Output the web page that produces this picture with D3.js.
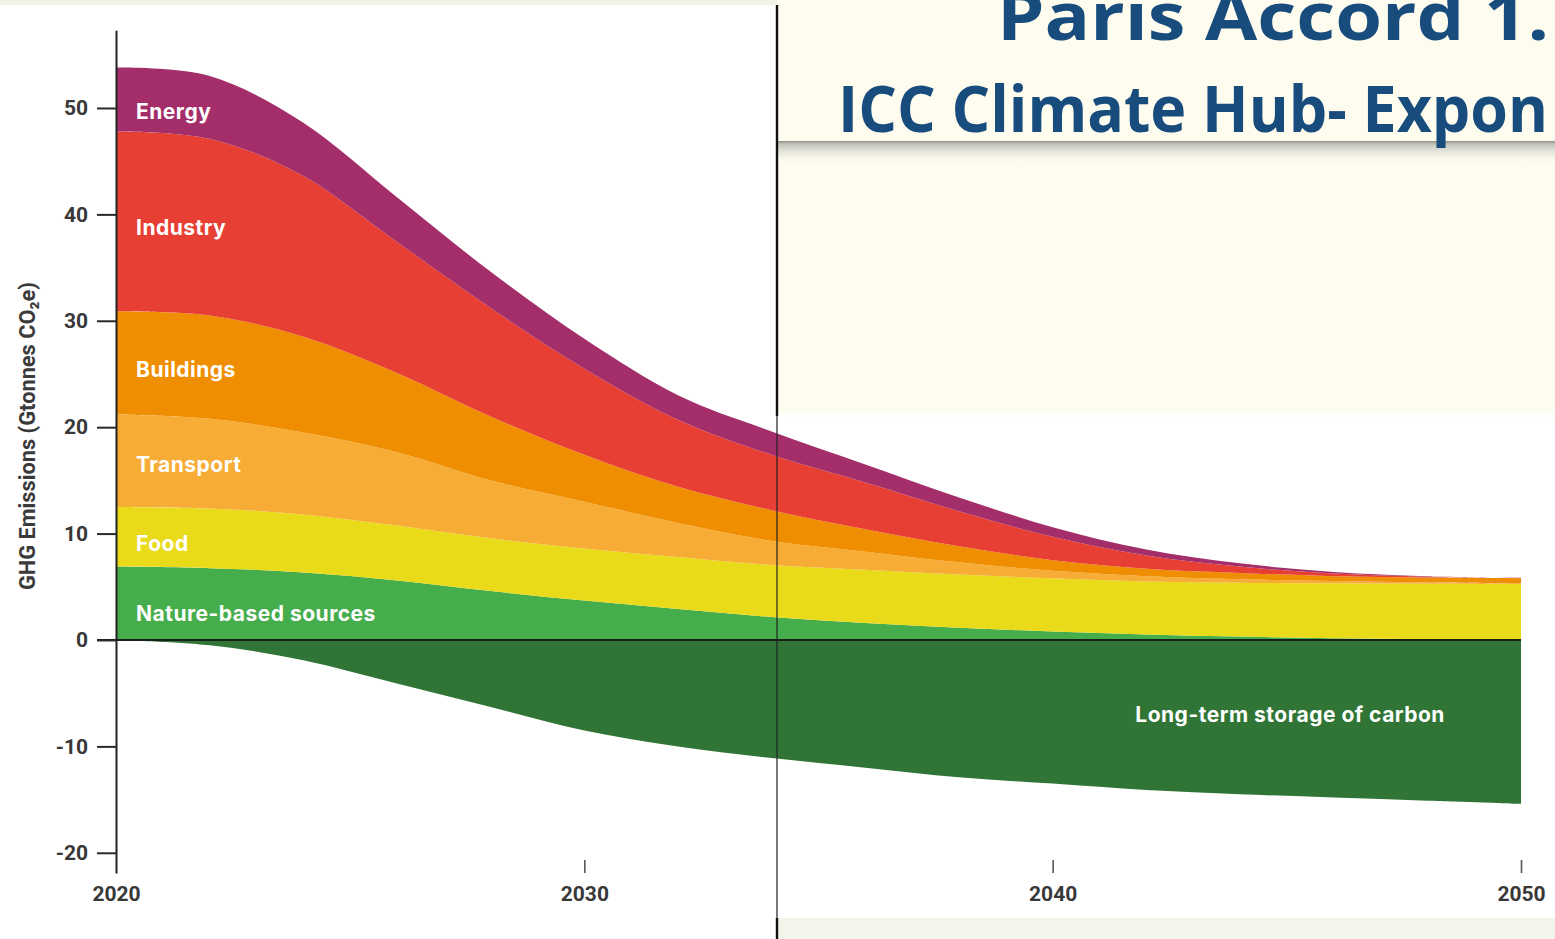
<!DOCTYPE html>
<html>
<head>
<meta charset="utf-8">
<script src="https://cdn.jsdelivr.net/npm/d3@7"></script>
<style>
  html, body { margin: 0; padding: 0; background: #fdfcef; }
  svg { display: block; }
</style>
</head>
<body>
<svg id="chart" width="1555" height="939"></svg>
<script>
// Emission pathway by sector, Gt CO2e per year
const years     = [2020, 2022, 2024, 2026, 2028, 2030, 2032, 2034, 2036, 2038, 2040, 2042, 2044, 2046, 2048, 2050];
const energy    = [6.0, 5.9, 5.0, 4.2, 3.4, 2.8, 2.3, 2.2, 1.7, 1.3, 0.9, 0.55, 0.3, 0.15, 0.05, 0.02];
const industry  = [16.9, 16.6, 15.1, 12.3, 10.2, 8.1, 6.3, 5.2, 4.4, 3.3, 2.2, 1.25, 0.6, 0.25, 0.08, 0.02];
const buildings = [9.7, 9.7, 9.0, 7.45, 6.0, 4.4, 3.4, 2.9, 2.1, 1.5, 1.0, 0.7, 0.6, 0.45, 0.47, 0.5];
const transport = [8.7, 8.45, 7.7, 6.9, 5.45, 4.4, 3.2, 2.25, 1.7, 1.15, 0.7, 0.5, 0.32, 0.22, 0.11, 0.04];
const food      = [5.6, 5.6, 5.45, 5.15, 4.95, 4.9, 4.9, 4.9, 5.0, 5.0, 5.0, 4.98, 5.06, 5.17, 5.23, 5.26];
const nature    = [6.9, 6.75, 6.35, 5.6, 4.6, 3.7, 2.9, 2.15, 1.6, 1.15, 0.8, 0.52, 0.32, 0.16, 0.06, 0.01];
const storage   = [0, -0.5, -1.9, -4.1, -6.3, -8.5, -10.0, -11.1, -12.0, -12.9, -13.5, -14.1, -14.5, -14.8, -15.1, -15.4];

const seriesNames = ["Nature-based sources", "Food", "Transport", "Buildings", "Industry", "Energy", "Long-term storage of carbon"];
const seriesValues = [nature, food, transport, buildings, industry, energy, storage];
const seriesColors = ["#46ad4c", "#eadb1a", "#f6ac35", "#f08e02", "#e73f34", "#a32e69", "#307536"];

const yTicks = [50, 40, 30, 20, 10, 0, -10, -20];
const xTicks = [2020, 2030, 2040, 2050];
const yTitle = "GHG Emissions (Gtonnes CO₂e)";
const titleLine1 = "Paris Accord 1.";
const titleLine2 = "ICC Climate Hub- Expon";

const svg = d3.select("#chart");
const W = 1555, H = 939;

// ---- slide backdrop and panels ----
const defs = svg.append("defs");
const shade = defs.append("linearGradient").attr("id", "ruleShade")
  .attr("x1", 0).attr("y1", 0).attr("x2", 0).attr("y2", 1);
shade.append("stop").attr("offset", 0).attr("stop-color", "#8f8f8a").attr("stop-opacity", 1);
shade.append("stop").attr("offset", 0.12).attr("stop-color", "#b9b9b2").attr("stop-opacity", 0.9);
shade.append("stop").attr("offset", 1).attr("stop-color", "#fdfcef").attr("stop-opacity", 0);

const fade = defs.append("linearGradient").attr("id", "panelFade")
  .attr("x1", 0).attr("y1", 0).attr("x2", 0).attr("y2", 1);
fade.append("stop").attr("offset", 0).attr("stop-color", "#fdfcef");
fade.append("stop").attr("offset", 1).attr("stop-color", "#ffffff");

svg.append("rect").attr("x", 0).attr("y", 0).attr("width", W).attr("height", H).attr("fill", "#fdfcef");
svg.append("rect").attr("x", 0).attr("y", 0).attr("width", 777).attr("height", 5).attr("fill", "#f3f2e6");
svg.append("rect").attr("x", 0).attr("y", 5).attr("width", 777).attr("height", H - 5).attr("fill", "#ffffff");
svg.append("rect").attr("x", 777).attr("y", 918).attr("width", W - 777).attr("height", H - 918).attr("fill", "#f5f4ea");
svg.append("rect").attr("x", 777).attr("y", 409).attr("width", W - 777).attr("height", 9).attr("fill", "url(#panelFade)");
svg.append("rect").attr("x", 777).attr("y", 418).attr("width", W - 777).attr("height", 500).attr("fill", "#ffffff");

// rule under the slide heading
svg.append("rect").attr("x", 777).attr("y", 141).attr("width", W - 777).attr("height", 24).attr("fill", "url(#ruleShade)");

// slide heading
svg.append("text")
  .attr("x", 997).attr("y", 40)
  .attr("font-family", "'Open Sans', 'Noto Sans', sans-serif")
  .attr("font-weight", 700).attr("font-size", 66)
  .attr("fill", "#184c7c")
  .attr("textLength", 552).attr("lengthAdjust", "spacingAndGlyphs")
  .text(titleLine1);
svg.append("text")
  .attr("x", 838).attr("y", 132)
  .attr("font-family", "'Open Sans', 'Noto Sans', sans-serif")
  .attr("font-weight", 700).attr("font-size", 64)
  .attr("fill", "#184c7c")
  .attr("textLength", 710).attr("lengthAdjust", "spacingAndGlyphs")
  .text(titleLine2);

// ---- scales ----
const x = d3.scaleLinear().domain([2020, 2050]).range([116, 1521]);
const y = d3.scaleLinear().domain([-21.9, 57.3]).range([873, 30.3]);

// ---- stacked areas ----
const rows = years.map((yr, i) => {
  const r = { year: yr };
  seriesNames.forEach((k, j) => { r[k] = seriesValues[j][i]; });
  return r;
});
const stacked = d3.stack().keys(seriesNames).offset(d3.stackOffsetDiverging)(rows);

// uniform Catmull-Rom keeps the bands smooth through every sample
const area = d3.area()
  .x(d => x(d.data.year))
  .y0(d => y(d[0]))
  .y1(d => y(d[1]))
  .curve(d3.curveCatmullRom.alpha(0));

svg.append("g").selectAll("path")
  .data(stacked)
  .join("path")
  .attr("d", area)
  .attr("fill", (d, i) => seriesColors[i]);

// zero line
svg.append("line")
  .attr("x1", 97).attr("x2", x(2050))
  .attr("y1", y(0)).attr("y2", y(0))
  .attr("stroke", "#17211a").attr("stroke-width", 2);

// ---- axes ----
const tickFont = "'Roboto', 'Liberation Sans', sans-serif";

const yAxis = svg.append("g")
  .attr("transform", `translate(${x(2020)},0)`)
  .call(d3.axisLeft(y).tickValues(yTicks).tickSize(19).tickSizeOuter(0).tickPadding(9).tickFormat(d3.format("d")));
yAxis.select(".domain").attr("stroke", "#222").attr("stroke-width", 2);
yAxis.selectAll(".tick line").attr("stroke", "#2a2a2a").attr("stroke-width", 2);
yAxis.selectAll(".tick text")
  .attr("font-family", tickFont).attr("font-weight", 700).attr("font-size", 21)
  .attr("fill", "#383838").text(d => d < 0 ? "-" + Math.abs(d) : d);

const xAxis = svg.append("g")
  .attr("transform", "translate(0,860)")
  .call(d3.axisBottom(x).tickValues(xTicks).tickSize(13).tickFormat(d3.format("d")));
xAxis.select(".domain").remove();
xAxis.selectAll(".tick line")
  .attr("stroke", "#555").attr("stroke-width", 1.6)
  .attr("display", d => d === 2020 ? "none" : null);
xAxis.selectAll(".tick text")
  .attr("y", 41).attr("dy", null)
  .attr("font-family", tickFont).attr("font-weight", 700).attr("font-size", 21)
  .attr("fill", "#383838");

// y-axis title
svg.append("text")
  .attr("transform", `translate(35,${436}) rotate(-90)`)
  .attr("text-anchor", "middle")
  .attr("font-family", "'Liberation Sans Narrow', 'Roboto', sans-serif")
  .attr("font-weight", 700).attr("font-size", 22)
  .attr("fill", "#3a3a3a")
  .attr("textLength", 308).attr("lengthAdjust", "spacingAndGlyphs")
  .text(yTitle);

// ---- sector labels ----
const labelFont = "'Inter', 'Roboto', sans-serif";
const labelSpecs = [
  { name: "Energy", value: 49.0 },
  { name: "Industry", value: 38.1 },
  { name: "Buildings", value: 24.7 },
  { name: "Transport", value: 15.8 },
  { name: "Food", value: 8.4 },
  { name: "Nature-based sources", value: 1.83 }
];
svg.append("g").selectAll("text")
  .data(labelSpecs)
  .join("text")
  .attr("x", x(2020) + 20)
  .attr("y", d => y(d.value))
  .attr("font-family", labelFont).attr("font-weight", 700).attr("font-size", 21)
  .attr("letter-spacing", 0.5)
  .attr("fill", "#ffffff")
  .text(d => d.name);

svg.append("text")
  .attr("x", x(2045.07)).attr("y", y(-7.7))
  .attr("text-anchor", "middle")
  .attr("font-family", labelFont).attr("font-weight", 700).attr("font-size", 21)
  .attr("letter-spacing", 0.5)
  .attr("fill", "#ffffff")
  .text("Long-term storage of carbon");

// ---- panel divider ----
svg.append("line").attr("x1", 777).attr("x2", 777).attr("y1", 5).attr("y2", 416)
  .attr("stroke", "#111").attr("stroke-width", 2.4);
svg.append("line").attr("x1", 777).attr("x2", 777).attr("y1", 416).attr("y2", 918)
  .attr("stroke", "#222").attr("stroke-width", 1.2);
svg.append("line").attr("x1", 777).attr("x2", 777).attr("y1", 918).attr("y2", H)
  .attr("stroke", "#111").attr("stroke-width", 2.4);
</script>
</body>
</html>
